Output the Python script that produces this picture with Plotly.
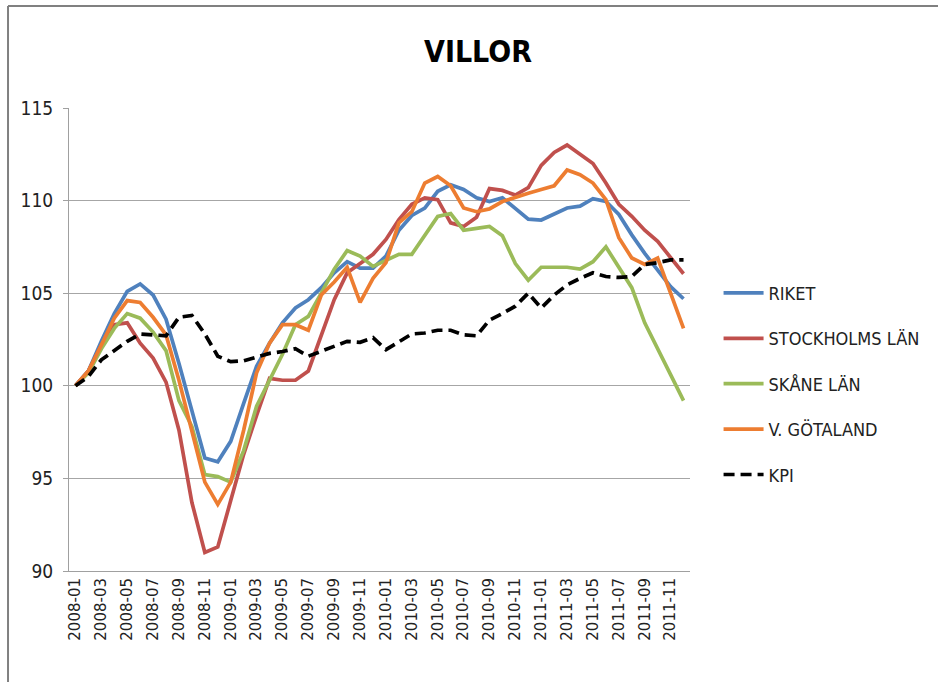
import plotly.graph_objects as go

months = [f"{y}-{m:02d}" for y in range(2008, 2012) for m in range(1, 13)]
tick_labels = months[::2]

riket = [100.0, 100.8, 102.4, 103.9, 105.1, 105.5, 104.9, 103.6, 101.2, 98.6, 96.1, 95.9,
         97.0, 99.05, 101.05, 102.3, 103.4, 104.2, 104.65, 105.3, 106.1, 106.7, 106.35, 106.35,
         107.0, 108.4, 109.2, 109.6, 110.5, 110.85, 110.6, 110.15, 109.95, 110.15, 109.6, 109.0,
         108.95, 109.25, 109.6, 109.7, 110.1, 109.95, 109.25, 108.15, 107.15, 106.25, 105.35, 104.7]
stockholm = [100.0, 100.8, 102.2, 103.3, 103.4, 102.3, 101.5, 100.2, 97.6, 93.7, 91.0, 91.3,
             93.8, 96.3, 98.4, 100.4, 100.3, 100.3, 100.8, 102.7, 104.65, 106.1, 106.6, 107.1,
             107.9, 108.97, 109.8, 110.15, 110.05, 108.8, 108.6, 109.1, 110.65, 110.55, 110.3, 110.7,
             111.9, 112.6, 113.0, 112.5, 112.0, 110.95, 109.8, 109.15, 108.4, 107.8, 106.9, 106.05]
skane = [100.0, 100.7, 102.0, 103.1, 103.9, 103.65, 102.9, 101.9, 99.2, 97.8, 95.2, 95.1,
         94.8, 96.5, 98.9, 100.25, 101.7, 103.3, 103.75, 105.0, 106.3, 107.3, 107.0, 106.45,
         106.8, 107.1, 107.1, 108.15, 109.15, 109.3, 108.4, 108.5, 108.6, 108.1, 106.6, 105.7,
         106.4, 106.4, 106.4, 106.3, 106.7, 107.5, 106.4, 105.3, 103.4, 101.95, 100.6, 99.2]
gotaland = [100.0, 100.8, 102.2, 103.65, 104.6, 104.5, 103.7, 102.75, 100.3, 97.6, 94.8, 93.6,
            94.8, 97.6, 100.7, 102.3, 103.3, 103.3, 103.0, 104.9, 105.6, 106.4, 104.5, 105.8,
            106.65, 108.8, 109.4, 110.95, 111.3, 110.8, 109.6, 109.4, 109.55, 109.95, 110.2, 110.4,
            110.6, 110.8, 111.65, 111.4, 110.95, 110.05, 108.0, 106.9, 106.55, 106.9, 105.0, 103.1]
kpi = [100.0, 100.5, 101.4, 101.9, 102.4, 102.8, 102.75, 102.7, 103.7, 103.8, 102.8, 101.6,
       101.3, 101.35, 101.55, 101.75, 101.85, 102.0, 101.6, 101.85, 102.1, 102.4, 102.35, 102.6,
       101.95, 102.4, 102.8, 102.85, 103.0, 103.0, 102.75, 102.7, 103.55, 103.9, 104.3, 105.0,
       104.2, 104.9, 105.45, 105.8, 106.1, 105.9, 105.85, 105.9, 106.55, 106.65, 106.8, 106.8]

series = [
    ("RIKET", riket, "#4F81BD", "solid"),
    ("STOCKHOLMS LÄN", stockholm, "#C0504D", "solid"),
    ("SKÅNE LÄN", skane, "#9BBB59", "solid"),
    ("V. GÖTALAND", gotaland, "#ED7D31", "solid"),
    ("KPI", kpi, "#000000", "11px,6px"),
]

narrow = "Liberation Sans Narrow, DejaVu Sans Condensed, Liberation Sans, sans-serif"

fig = go.Figure()
for name, vals, color, dash in series:
    fig.add_trace(go.Scatter(
        x=months, y=vals, name=name, mode="lines", legendgroup=name,
        line=dict(color=color, width=3.7, dash=dash),
    ))

fig.update_layout(
    width=938, height=682,
    margin=dict(l=69, r=248, t=108, b=111),
    paper_bgcolor="white", plot_bgcolor="white",
    showlegend=True,
    legend=dict(
        x=1.046, xanchor="left", y=0.64, yanchor="top",
        font=dict(family=narrow, size=18, color="#222222"),
        tracegroupgap=19, bgcolor="rgba(0,0,0,0)",
        itemwidth=40,
    ),
    annotations=[dict(
        text="<b>VILLOR</b>", x=0.6586, y=1.121, xref="paper", yref="paper",
        xanchor="center", yanchor="middle", showarrow=False,
        font=dict(family=narrow, size=30, color="#000000"),
    )],
    shapes=[
        dict(type="line", xref="paper", yref="paper", x0=-0.0982, x1=1.4, y0=1.2203, y1=1.2203,
             line=dict(color="#808080", width=2)),
        dict(type="line", xref="paper", yref="paper", x0=-0.0982, x1=-0.0982, y0=-0.25, y1=1.2203,
             line=dict(color="#808080", width=2)),
    ],
)

fig.update_xaxes(
    type="category", categoryorder="array", categoryarray=months,
    range=[-0.5, len(months) - 0.5],
    tickmode="array", tickvals=tick_labels, ticktext=tick_labels,
    tickangle=-90, tickfont=dict(family="DejaVu Sans", size=15, color="#222222"),
    showgrid=False, showline=True, linecolor="#A0A0A0", linewidth=1,
    ticks="", zeroline=False,
)
fig.update_yaxes(
    range=[90, 115], dtick=5, tick0=90,
    tickfont=dict(family=narrow, size=19, color="#222222"),
    showgrid=True, gridcolor="#A6A6A6", gridwidth=1,
    showline=True, linecolor="#A0A0A0", linewidth=1,
    ticks="outside", ticklen=5, tickcolor="#A0A0A0",
    ticklabelstandoff=6, zeroline=False,
)

fig.write_html("out.html", config={"displayModeBar": False},
               post_script="document.body.style.margin='0';")
